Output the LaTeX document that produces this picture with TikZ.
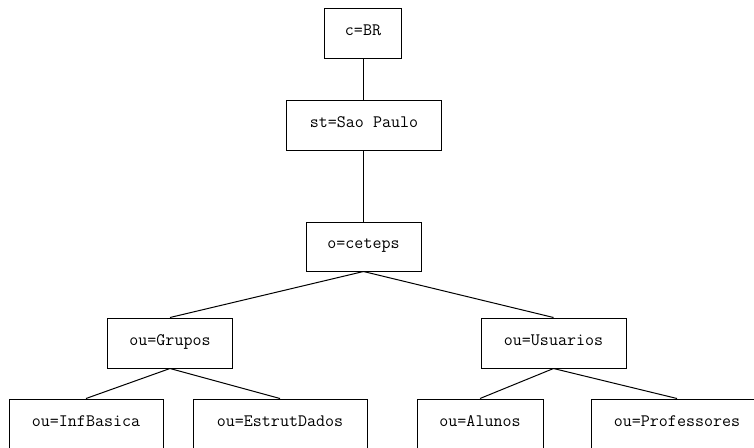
\documentclass[tikz,border=0pt]{standalone}
\begin{document}
\begin{tikzpicture}[x=1pt,y=-1pt,
  entry/.style={draw, line width=1pt, rectangle, inner sep=0pt,
    text height=12pt, text depth=7.4pt,
    minimum height=50pt, font=\ttfamily\fontsize{17.5}{20}\selectfont},
  link/.style={line width=1pt}]
  \useasboundingbox (0,0) rectangle (754,447);
  \clip (0,0) rectangle (754,447);
  % directory tree
  \node[entry, minimum width=77pt]  (c)  at (363,33)    {c=BR};
  \node[entry, minimum width=155pt] (st) at (364,125)   {st=Sao Paulo};
  \node[entry, minimum width=115pt, minimum height=49pt] (o) at (363.5,246.5) {o=ceteps};
  \node[entry, minimum width=125pt] (g)  at (170,343)   {ou=Grupos};
  \node[entry, minimum width=145pt] (u)  at (553.5,343) {ou=Usuarios};
  \node[entry, minimum width=154pt] (ib) at (86,424)    {ou=InfBasica};
  \node[entry, minimum width=174pt] (ed) at (280,424)   {ou=EstrutDados};
  \node[entry, minimum width=126pt] (al) at (480,424)   {ou=Alunos};
  \node[entry, minimum width=172pt] (pr) at (677,424)   {ou=Professores};
  % connectors
  \draw[link] (c.south) -- (c.south |- st.north);
  \draw[link] (st.south -| c.south) -- (o.north -| c.south);
  \draw[link] (o.south) -- (g.north);
  \draw[link] (o.south) -- (u.north);
  \draw[link] (g.south) -- (ib.north);
  \draw[link] (g.south) -- (ed.north);
  \draw[link] (u.south) -- (al.north);
  \draw[link] (u.south) -- (pr.north);
\end{tikzpicture}
\end{document}
